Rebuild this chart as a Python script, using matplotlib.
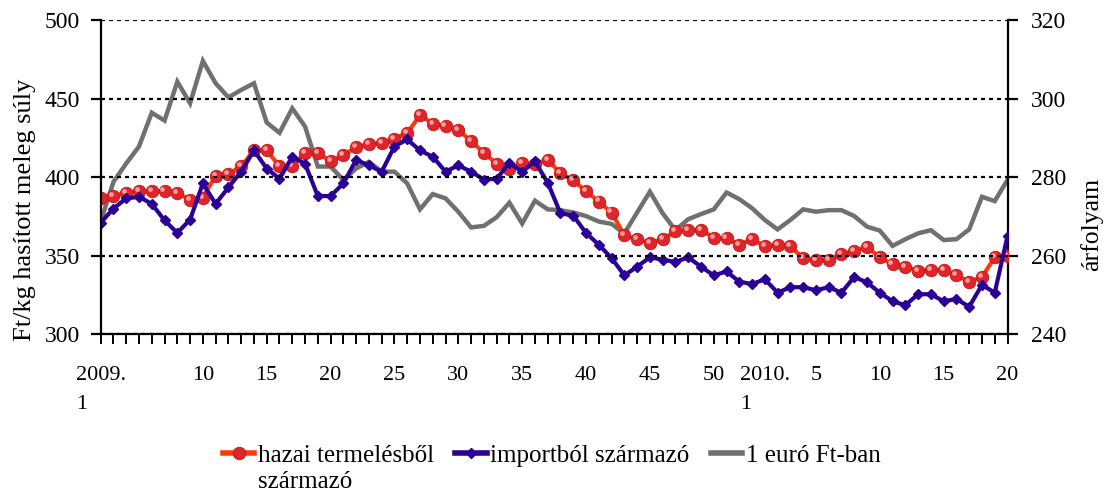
import matplotlib
matplotlib.use("Agg")
import matplotlib.pyplot as plt
import matplotlib.transforms as mtransforms
import numpy as np

plt.rcParams['font.family'] = ['Liberation Serif', 'DejaVu Serif']

# weekly data, 2009 week 1 .. 2010 week 20
hazai = [387, 388, 390, 391, 391, 391, 390, 385.5, 387, 401,
         402, 407, 417, 417, 407, 407, 415.5, 415.5, 410, 414,
         419, 421, 421.5, 424.5, 428, 439.5, 434, 432.5, 430, 423,
         415.5, 408.5, 405.5, 409, 408.5, 411, 402.5, 398, 391, 384.5,
         377.5, 363, 360.5, 358, 360.5, 365.5, 366.5, 366.5, 361.5, 361,
         357, 360.5, 356, 357, 356, 348.5, 347, 347.5, 351, 353,
         355.5, 349, 344.5, 343, 340.5, 341, 341, 337.5, 333.5, 336.5,
         349, 350]
import_ = [371, 380, 386.5, 387.5, 383, 372.5, 364.5, 373, 396, 383,
           393.5, 403.5, 417, 405.5, 399, 413, 408.5, 388, 388, 396,
           411, 407.5, 403.5, 419.5, 424, 417, 413, 403.5, 407.5, 403.5,
           398.5, 399, 409, 403.5, 410, 396.5, 377, 375.5, 364.5, 357,
           348.5, 337.5, 343, 349, 347.5, 346, 349, 343, 337.5, 340,
           333.5, 332, 335, 326.5, 330, 330, 328, 330, 326.5, 336.5,
           333, 326.5, 321, 318.5, 325.5, 325.5, 321, 322.5, 317.5, 331.5,
           326.5, 362.5]
euro = [268.7, 278.8, 283.5, 287.8, 296.4, 294.4, 304.3, 298.8, 309.6, 303.9,
        300.3, 302.2, 303.9, 293.9, 291.3, 297.5, 292.9, 282.7, 282.7, 279.3,
        282.2, 283.9, 281.4, 281.4, 278.4, 271.8, 275.7, 274.6, 271.2, 267.2,
        267.6, 269.8, 273.5, 268.2, 274.0, 271.8, 271.6, 271.0, 270.1, 268.7,
        268.1, 265.7, 271.0, 276.3, 270.8, 266.5, 269.3, 270.6, 271.8, 276.1,
        274.4, 272.1, 269.1, 266.7, 269.1, 271.8, 271.2, 271.6, 271.6, 270.1,
        267.4, 266.4, 262.5, 264.2, 265.7, 266.5, 264.0, 264.2, 266.7, 275.0,
        273.9, 279.3]

# shown category labels (index in series -> text)
label_idx = [0, 8, 13, 18, 23, 28, 33, 38, 43, 48, 52, 56, 61, 66, 71]
label_txt = ["2009.\n1", "10", "15", "20", "25", "30", "35", "40", "45", "50",
             "2010.\n1", "5", "10", "15", "20"]

names = ["hazai termelésből", "importból származó", "1 euró Ft-ban"]

x = np.arange(len(hazai))

fig = plt.figure(figsize=(11.15, 4.93), dpi=100)
ax = fig.add_axes([0.0903, 0.3219, 0.8133, 0.6375])
ax2 = ax.twinx()

l3, = ax2.plot(x, euro, color='#707070', lw=3.2, solid_joinstyle='miter', label=names[2])

l1, = ax.plot(x, hazai, color='#FF3A0A', lw=3.0, marker='o', ms=9,
              mfc='#E0242A', mec='#C01818', mew=0.6, label=names[0])
# small highlight on the sphere markers
hl = mtransforms.offset_copy(ax.transData, fig=fig, x=-1.5, y=1.5, units='points')
ax.plot(x, hazai, ls='none', marker='o', ms=3.4, mfc='#F5A0A0', mec='none',
        transform=hl)
l2, = ax.plot(x, import_, color='#2A0096', lw=3.0, marker='D', ms=5.5,
              mfc='#2A0096', mec='#2A0096', label=names[1])

ax.set_zorder(ax2.get_zorder() + 1)
ax.patch.set_visible(False)

ax.set_xlim(0, len(hazai) - 1)
ax.set_ylim(300, 500)
ax2.set_ylim(240, 320)
ax.set_yticks([300, 350, 400, 450, 500])
ax2.set_yticks([240, 260, 280, 300, 320])

ax.set_xticks(x)
labels = [""] * len(x)
for i, t in zip(label_idx, label_txt):
    labels[i] = t
ax.set_xticklabels(labels, fontsize=16, linespacing=1.7, multialignment='left')

ax.yaxis.grid(True, color='black', ls=(0, (1.8, 1.8)), lw=1.6)
ax.set_axisbelow(False)

for a in (ax, ax2):
    a.spines['top'].set_visible(False)
    for s in ('left', 'right', 'bottom'):
        a.spines[s].set_linewidth(1.6)
ax2.spines['left'].set_visible(False)
ax2.spines['bottom'].set_visible(False)
ax.spines['right'].set_visible(False)

ax.tick_params(axis='x', direction='out', length=7, width=1.4, pad=16)
ax.tick_params(axis='y', direction='out', length=7, width=1.6, labelsize=17, pad=8)
ax2.tick_params(axis='y', direction='out', length=7, width=1.6, labelsize=17, pad=10)

fig.text(0.022, 0.574, "Ft/kg hasított meleg súly", rotation=90, fontsize=19,
         ha='center', va='center')
fig.text(0.979, 0.544, "árfolyam", rotation=90, fontsize=18.5,
         ha='center', va='center')

leg = fig.legend(handles=[l1, l2, l3], labels=names, loc='upper center',
                 bbox_to_anchor=(0.495, 0.119), ncol=3, frameon=False,
                 fontsize=18, handlelength=1.25, handletextpad=0.15,
                 columnspacing=0.85, borderaxespad=0)
for h in leg.legend_handles:
    h.set_linewidth(4)

# second line of the first legend label, under its text
fig.canvas.draw()
bb = leg.get_texts()[0].get_window_extent()
H = fig.get_size_inches()[1] * fig.dpi
base1 = bb.y0 + 0.216 * 18 * fig.dpi / 72
fig.text(bb.x0 / (fig.get_size_inches()[0] * fig.dpi), (base1 - 26.5) / H,
         "származó", fontsize=18, ha='left', va='baseline')

fig.savefig("out.png", dpi=100)
